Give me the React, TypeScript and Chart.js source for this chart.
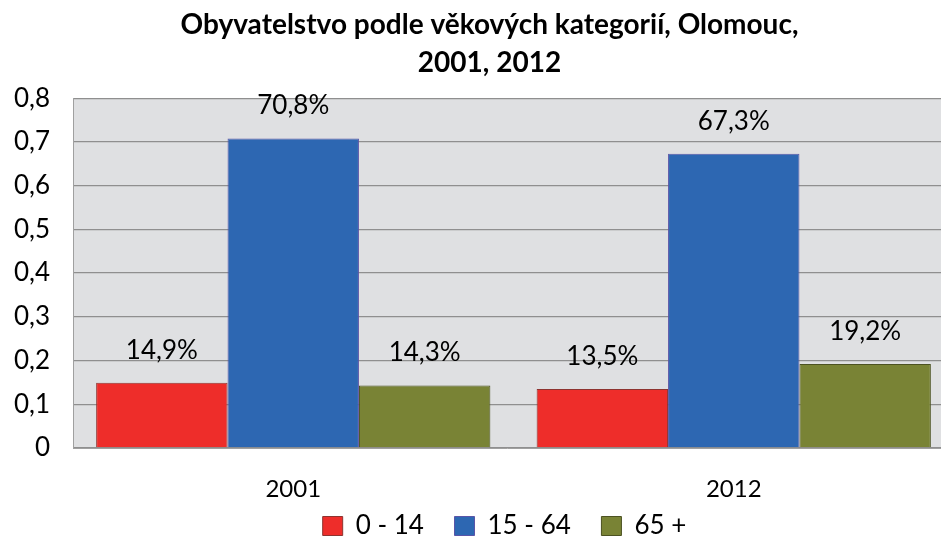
import React, { useEffect, useRef } from "react";
import { Chart, registerables } from "chart.js";

Chart.register(...registerables);

const categories = ["2001", "2012"];
const seriesNames = ["0 - 14", "15 - 64", "65 +"];
const age0to14 = [0.149, 0.135];
const age15to64 = [0.708, 0.673];
const age65plus = [0.143, 0.192];
const yTicks = [0, 0.1, 0.2, 0.3, 0.4, 0.5, 0.6, 0.7, 0.8];
const titleLines = ["Obyvatelstvo podle věkových kategorií, Olomouc,", "2001, 2012"];

const FONT = "Lato, 'Open Sans', sans-serif";

const plotBg = {
  id: "plotBg",
  beforeDraw(chart: any) {
    const { ctx, chartArea } = chart;
    ctx.save();
    ctx.fillStyle = "#dfe0e2";
    ctx.fillRect(chartArea.left, chartArea.top, chartArea.right - chartArea.left, chartArea.bottom - chartArea.top);
    ctx.restore();
  },
};

// the original plot area runs past the right edge of the picture;
// also shift title and legend horizontally like the original layout
const layoutTweaks = {
  id: "layoutTweaks",
  afterLayout(chart: any) {
    const extra = 13;
    const xs = chart.scales.x;
    if (xs) {
      xs.right += extra;
      xs.width += extra;
      xs.configure();
    }
    chart.chartArea.right += extra;
    chart.chartArea.width += extra;
    const t = chart.titleBlock;
    if (t) {
      t.left += 9;
      t.right += 9;
    }
    const l = chart.legend;
    if (l) {
      l.left += 24;
      l.right += 24;
    }
  },
};

const barLabels = {
  id: "barLabels",
  afterDatasetsDraw(chart: any) {
    const { ctx } = chart;
    ctx.save();
    ctx.font = `26px ${FONT}`;
    ctx.fillStyle = "#000";
    ctx.textAlign = "center";
    ctx.textBaseline = "alphabetic";
    chart.data.datasets.forEach((ds: any, i: number) => {
      const meta = chart.getDatasetMeta(i);
      meta.data.forEach((el: any, j: number) => {
        const v = ds.data[j] as number;
        const txt = (v * 100).toFixed(1).replace(".", ",") + "%";
        ctx.fillText(txt, el.x, el.y - 24);
      });
    });
    ctx.restore();
  },
};

export default function App() {
  const ref = useRef<HTMLCanvasElement>(null);
  useEffect(() => {
    document.body.style.margin = "0";
    const chart = new Chart(ref.current!, {
      type: "bar",
      data: {
        labels: categories,
        datasets: [
          { label: seriesNames[0], data: age0to14, backgroundColor: "#ee2d2a", borderColor: "#8e3430", borderWidth: 1 },
          { label: seriesNames[1], data: age15to64, backgroundColor: "#2d67b2", borderColor: "#5a55a8", borderWidth: 1 },
          { label: seriesNames[2], data: age65plus, backgroundColor: "#798335", borderColor: "#4c5222", borderWidth: 1 },
        ],
      },
      options: {
        responsive: false,
        animation: false,
        layout: { padding: { left: 8, right: -12, top: 0, bottom: -11 } },
        datasets: { bar: { categoryPercentage: 0.895, barPercentage: 1 } },
        plugins: {
          title: {
            display: true,
            text: titleLines,
            color: "#000",
            font: { family: FONT, size: 28, weight: "bold", lineHeight: 1.36 },
            padding: { top: 6, bottom: 16 },
          },
          legend: {
            position: "bottom",
            labels: {
              color: "#000",
              font: { family: FONT, size: 26 },
              boxWidth: 20,
              boxHeight: 19,
              padding: 4,
              generateLabels(chart: any) {
                const items = Chart.defaults.plugins.legend.labels.generateLabels(chart);
                return items.map((it: any, i: number) =>
                  i < items.length - 1 ? { ...it, text: it.text + "    " } : it
                );
              },
            },
          },
          tooltip: { enabled: false },
        },
        scales: {
          x: {
            grid: { display: false, drawTicks: false },
            border: { display: true, color: "#a0a0a0", width: 1 },
            afterFit(scale: any) {
              scale.height = 61;
            },
            ticks: { color: "#000", font: { family: FONT, size: 24 }, padding: 27 },
          },
          y: {
            min: 0,
            max: 0.8,
            afterFit(scale: any) {
              scale.width = 65;
            },
            afterBuildTicks(scale: any) {
              scale.ticks = yTicks.map((v) => ({ value: v }));
            },
            grid: { color: "#8f8f8f", lineWidth: 1.3, drawTicks: false },
            border: { display: true, color: "#a0a0a0", width: 1 },
            ticks: {
              color: "#000",
              font: { family: FONT, size: 26 },
              padding: 23,
              callback: (v: any) => (Number(v) === 0 ? "0" : Number(v).toFixed(1).replace(".", ",")),
            },
          },
        },
      },
      plugins: [plotBg, layoutTweaks, barLabels],
    });
    return () => chart.destroy();
  }, []);
  return <canvas ref={ref} width={941} height={538} />;
}
